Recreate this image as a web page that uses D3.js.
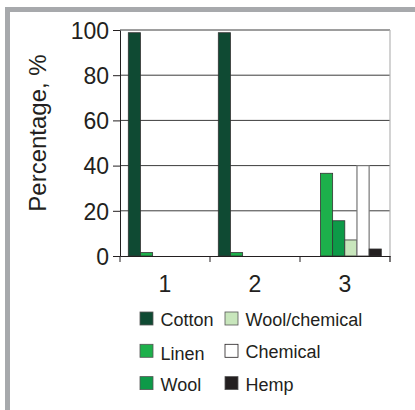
<!DOCTYPE html>
<meta charset="utf-8">
<style>
    body { margin: 0; background: #fff; }
    text { font-family: Arial, "Liberation Sans", sans-serif; fill: #231f20; }
</style>
<svg width="415" height="410"></svg>
<script src="https://cdnjs.cloudflare.com/ajax/libs/d3/7.8.5/d3.min.js"></script>
<script>
    // data
    var groups = ["1", "2", "3"];
    var series = ["Cotton", "Linen", "Wool", "Wool/chemical", "Chemical", "Hemp"];
    var cotton = [98.8, 98.8, 0];
    var linen = [1.5, 1.5, 36.6];
    var wool = [0, 0, 15.6];
    var woolChemical = [0, 0, 7.1];
    var chemical = [0, 0, 40];
    var hemp = [0, 0, 3.1];
    var yTicks = [0, 20, 40, 60, 80, 100];
    var colors = ["#0f4a33", "#1db04b", "#0d9a48", "#c8e6bc", "#ffffff", "#231f20"];

    var values = [cotton, linen, wool, woolChemical, chemical, hemp];

    var svg = d3.select("svg"),
        margin = {top: 30, right: 25, bottom: 154, left: 120},
        width = 390 - margin.left,
        height = 256 - margin.top;

    // grey frame, top and left only
    svg.append("rect").attr("x", 5).attr("y", 7).attr("width", 410).attr("height", 5).attr("fill", "#a7a9ac");
    svg.append("rect").attr("x", 5).attr("y", 7).attr("width", 5).attr("height", 403).attr("fill", "#a7a9ac");

    var g = svg.append("g").attr("transform", "translate(" + margin.left + "," + margin.top + ")");

    var x = d3.scaleBand().domain(groups).range([0, width]);
    var x1 = d3.scaleBand().domain(series).range([8.3, x.bandwidth() - 8.7]);
    var y = d3.scaleLinear().domain([0, 100]).range([height, 0]);

    // gridlines
    g.append("g")
        .selectAll("line")
        .data(yTicks.slice(1))
        .enter()
        .append("line")
        .attr("x1", 0)
        .attr("x2", width)
        .attr("y1", d => y(d))
        .attr("y2", d => y(d))
        .attr("stroke", "#3c3c3c")
        .attr("stroke-width", 1);

    // right border of plot
    g.append("line")
        .attr("x1", width).attr("x2", width)
        .attr("y1", 0).attr("y2", height + 6)
        .attr("stroke", "#b5b5b5").attr("stroke-width", 1.2);

    // bars
    series.forEach(function (s, si) {
        var rows = values[si]
            .map((v, i) => ({group: groups[i], value: v}))
            .filter(d => d.value > 0);
        g.append("g")
            .selectAll("rect")
            .data(rows)
            .enter()
            .append("rect")
            .attr("x", d => x(d.group) + x1(s))
            .attr("y", d => y(d.value))
            .attr("width", x1.bandwidth())
            .attr("height", d => height - y(d.value))
            .attr("fill", colors[si])
            .attr("stroke", si === 4 ? "#777" : "#333")
            .attr("stroke-width", si === 4 ? 1.2 : 0.8);
    });

    // axes
    var yAxis = g.append("g")
        .call(d3.axisLeft(y).tickValues(yTicks).tickSize(7).tickSizeOuter(0).tickPadding(4));
    yAxis.selectAll("text").style("font-size", "23px").attr("dy", "0.36em");

    var xAxis = g.append("g")
        .attr("transform", "translate(0," + height + ")")
        .call(d3.axisBottom(x).tickSize(0).tickPadding(20));
    xAxis.selectAll("text").style("font-size", "23px");
    xAxis.selectAll(".tick line").remove();
    xAxis.append("g")
        .selectAll("line")
        .data(d3.range(groups.length + 1))
        .enter()
        .append("line")
        .attr("x1", d => d * x.step())
        .attr("x2", d => d * x.step())
        .attr("y1", 0)
        .attr("y2", 6)
        .attr("stroke", "#231f20");
    svg.selectAll(".domain").attr("stroke", "#231f20");
    svg.selectAll(".tick line").attr("stroke", "#231f20");
    svg.selectAll(".tick text").attr("fill", "#231f20");

    // y axis title
    svg.append("text")
        .attr("transform", "translate(46,133) rotate(-90)")
        .attr("text-anchor", "middle")
        .style("font-size", "24px")
        .text("Percentage, %");

    // legend, two columns, three rows
    var legend = svg.append("g");
    series.forEach(function (s, i) {
        var col = Math.floor(i / 3), row = i % 3;
        var lx = 140 + col * 85, ly = 312 + row * 32.3;
        legend.append("rect")
            .attr("x", lx).attr("y", ly)
            .attr("width", 13).attr("height", 13)
            .attr("fill", colors[i])
            .attr("stroke", i === 4 ? "#231f20" : "#555")
            .attr("stroke-width", 0.8);
        legend.append("text")
            .attr("x", lx + 20.5)
            .attr("y", ly + 14 + (s === "Linen" ? 2 : 0))
            .style("font-size", "18px")
            .text(s);
    });
</script>
